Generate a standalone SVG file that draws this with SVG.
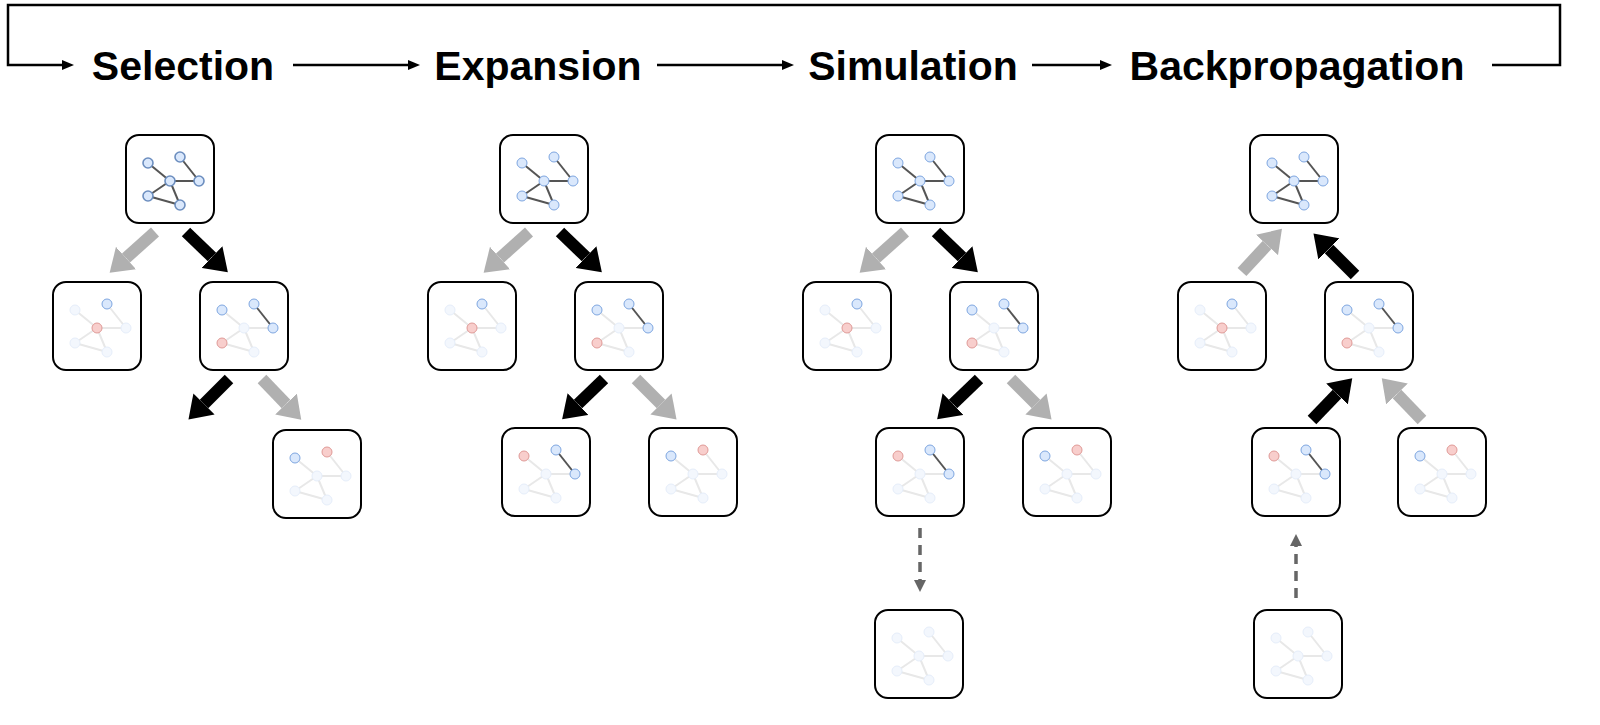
<svg xmlns="http://www.w3.org/2000/svg" xmlns:xlink="http://www.w3.org/1999/xlink" width="1600" height="725" viewBox="0 0 1600 725">
<style>
.box{fill:#fff;stroke:#000;stroke-width:2}
.t{font-family:"Liberation Sans",Arial,sans-serif;font-weight:bold;font-size:41px;text-anchor:middle}
.ed{stroke:#555;stroke-width:2}
.ef{stroke:#e8e8e8;stroke-width:2}
.nb{fill:#dae8fc;stroke:#7ea6e0;stroke-width:1}
.ns{fill:#dae8fc;stroke:#6c8ebf;stroke-width:1.6}
.nr{fill:#f8cecc;stroke:#e09a97;stroke-width:1}
.nf{fill:#f3f7fd;stroke:#e6eefa;stroke-width:1}
.bk{stroke:#000;stroke-width:12;marker-end:url(#hb)}
.gr{stroke:#b0b0b0;stroke-width:12;marker-end:url(#hg)}
.ds{stroke:#666;stroke-width:3.5;stroke-dasharray:10 7;marker-end:url(#hd)}
.hl{stroke:#000;stroke-width:2.5;fill:none}
</style>
<defs>
<marker id="hb" markerUnits="userSpaceOnUse" viewBox="0 0 22 30" markerWidth="22" markerHeight="30" refX="0" refY="15" orient="auto"><path d="M0,0L22,15L0,30z" fill="#000"/></marker>
<marker id="hg" markerUnits="userSpaceOnUse" viewBox="0 0 22 30" markerWidth="22" markerHeight="30" refX="0" refY="15" orient="auto"><path d="M0,0L22,15L0,30z" fill="#b0b0b0"/></marker>
<marker id="hd" markerUnits="userSpaceOnUse" viewBox="0 0 12 12" markerWidth="12" markerHeight="12" refX="0" refY="6" orient="auto"><path d="M0,0L12,6L0,12z" fill="#666"/></marker>
<marker id="hh" markerUnits="userSpaceOnUse" viewBox="0 0 12 10" markerWidth="12" markerHeight="10" refX="0" refY="5" orient="auto"><path d="M0,0L12,5L0,10z" fill="#000"/></marker>
<g id="gS"><g class="ed"><line x1="22" y1="28" x2="44" y2="46"/><line x1="54" y1="22" x2="73" y2="46"/><line x1="44" y1="46" x2="73" y2="46"/><line x1="44" y1="46" x2="22" y2="61"/><line x1="44" y1="46" x2="54" y2="70"/><line x1="22" y1="61" x2="54" y2="70"/></g><g class="ns"><circle cx="22" cy="28" r="5"/><circle cx="54" cy="22" r="5"/><circle cx="44" cy="46" r="5"/><circle cx="73" cy="46" r="5"/><circle cx="22" cy="61" r="5"/><circle cx="54" cy="70" r="5"/></g></g>
<g id="gA"><g class="ed"><line x1="22" y1="28" x2="44" y2="46"/><line x1="54" y1="22" x2="73" y2="46"/><line x1="44" y1="46" x2="73" y2="46"/><line x1="44" y1="46" x2="22" y2="61"/><line x1="44" y1="46" x2="54" y2="70"/><line x1="22" y1="61" x2="54" y2="70"/></g><g class="nb"><circle cx="22" cy="28" r="5"/><circle cx="54" cy="22" r="5"/><circle cx="44" cy="46" r="5"/><circle cx="73" cy="46" r="5"/><circle cx="22" cy="61" r="5"/><circle cx="54" cy="70" r="5"/></g></g>
<g id="gL"><g class="ef"><line x1="22" y1="28" x2="44" y2="46"/><line x1="54" y1="22" x2="73" y2="46"/><line x1="44" y1="46" x2="73" y2="46"/><line x1="44" y1="46" x2="22" y2="61"/><line x1="44" y1="46" x2="54" y2="70"/><line x1="22" y1="61" x2="54" y2="70"/></g><circle class="nf" cx="22" cy="28" r="5"/><circle class="nb" cx="54" cy="22" r="5"/><circle class="nr" cx="44" cy="46" r="5"/><circle class="nf" cx="73" cy="46" r="5"/><circle class="nf" cx="22" cy="61" r="5"/><circle class="nf" cx="54" cy="70" r="5"/></g>
<g id="gR"><g class="ef"><line x1="22" y1="28" x2="44" y2="46"/><line x1="44" y1="46" x2="73" y2="46"/><line x1="44" y1="46" x2="22" y2="61"/><line x1="44" y1="46" x2="54" y2="70"/><line x1="22" y1="61" x2="54" y2="70"/></g><line class="ed" x1="54" y1="22" x2="73" y2="46"/><circle class="nb" cx="22" cy="28" r="5"/><circle class="nb" cx="54" cy="22" r="5"/><circle class="nf" cx="44" cy="46" r="5"/><circle class="nb" cx="73" cy="46" r="5"/><circle class="nr" cx="22" cy="61" r="5"/><circle class="nf" cx="54" cy="70" r="5"/></g>
<g id="gGL"><g class="ef"><line x1="22" y1="28" x2="44" y2="46"/><line x1="44" y1="46" x2="73" y2="46"/><line x1="44" y1="46" x2="22" y2="61"/><line x1="44" y1="46" x2="54" y2="70"/><line x1="22" y1="61" x2="54" y2="70"/></g><line class="ed" x1="54" y1="22" x2="73" y2="46"/><circle class="nr" cx="22" cy="28" r="5"/><circle class="nb" cx="54" cy="22" r="5"/><circle class="nf" cx="44" cy="46" r="5"/><circle class="nb" cx="73" cy="46" r="5"/><circle class="nf" cx="22" cy="61" r="5"/><circle class="nf" cx="54" cy="70" r="5"/></g>
<g id="gGR"><g class="ef"><line x1="22" y1="28" x2="44" y2="46"/><line x1="54" y1="22" x2="73" y2="46"/><line x1="44" y1="46" x2="73" y2="46"/><line x1="44" y1="46" x2="22" y2="61"/><line x1="44" y1="46" x2="54" y2="70"/><line x1="22" y1="61" x2="54" y2="70"/></g><circle class="nb" cx="22" cy="28" r="5"/><circle class="nr" cx="54" cy="22" r="5"/><circle class="nf" cx="44" cy="46" r="5"/><circle class="nf" cx="73" cy="46" r="5"/><circle class="nf" cx="22" cy="61" r="5"/><circle class="nf" cx="54" cy="70" r="5"/></g>
<g id="gF"><g class="ef"><line x1="22" y1="28" x2="44" y2="46"/><line x1="54" y1="22" x2="73" y2="46"/><line x1="44" y1="46" x2="73" y2="46"/><line x1="44" y1="46" x2="22" y2="61"/><line x1="44" y1="46" x2="54" y2="70"/><line x1="22" y1="61" x2="54" y2="70"/></g><g class="nf"><circle cx="22" cy="28" r="5"/><circle cx="54" cy="22" r="5"/><circle cx="44" cy="46" r="5"/><circle cx="73" cy="46" r="5"/><circle cx="22" cy="61" r="5"/><circle cx="54" cy="70" r="5"/></g></g>
<rect id="bx" class="box" x="0" y="0" width="88" height="88" rx="13"/>
</defs>
<rect width="1600" height="725" fill="#fff"/>
<g id="header">
<path class="hl" d="M1492,65H1560V5H8V65H62" marker-end="url(#hh)"/>
<text class="t" x="183" y="80">Selection</text>
<text class="t" x="538" y="80">Expansion</text>
<text class="t" x="913" y="80">Simulation</text>
<text class="t" x="1297" y="80">Backpropagation</text>
<line class="hl" x1="293" y1="65" x2="408" y2="65" marker-end="url(#hh)"/>
<line class="hl" x1="657" y1="65" x2="782" y2="65" marker-end="url(#hh)"/>
<line class="hl" x1="1032" y1="65" x2="1100" y2="65" marker-end="url(#hh)"/>
</g>
<g id="connectors">
<line class="gr" x1="155" y1="232" x2="126" y2="258"/>
<line class="bk" x1="186" y1="232" x2="212" y2="257"/>
<line class="bk" x1="229" y1="379" x2="204" y2="404"/>
<line class="gr" x1="262" y1="379" x2="286" y2="404"/>
<line class="gr" x1="529" y1="232" x2="500" y2="258"/>
<line class="bk" x1="560" y1="232" x2="586" y2="257"/>
<line class="bk" x1="604" y1="379" x2="578" y2="404"/>
<line class="gr" x1="636" y1="379" x2="661" y2="404"/>
<line class="gr" x1="905" y1="232" x2="876" y2="258"/>
<line class="bk" x1="936" y1="232" x2="962" y2="257"/>
<line class="bk" x1="979" y1="379" x2="953" y2="404"/>
<line class="gr" x1="1011" y1="379" x2="1036" y2="404"/>
<line class="ds" x1="920" y1="528" x2="920" y2="580"/>
<line class="gr" x1="1242" y1="272" x2="1267" y2="245"/>
<line class="bk" x1="1355" y1="275" x2="1329" y2="249"/>
<line class="bk" x1="1312" y1="420" x2="1337" y2="394"/>
<line class="gr" x1="1422" y1="420" x2="1397" y2="394"/>
<line class="ds" x1="1296" y1="598" x2="1296" y2="546"/>
</g>
<g id="sel-root" transform="translate(126,135)"><use href="#bx"/><use href="#gS"/></g>
<g id="sel-c1" transform="translate(53,282)"><use href="#bx"/><use href="#gL"/></g>
<g id="sel-c2" transform="translate(200,282)"><use href="#bx"/><use href="#gR"/></g>
<g id="sel-g2" transform="translate(273,430)"><use href="#bx"/><use href="#gGR"/></g>
<g id="exp-root" transform="translate(500,135)"><use href="#bx"/><use href="#gA"/></g>
<g id="exp-c1" transform="translate(428,282)"><use href="#bx"/><use href="#gL"/></g>
<g id="exp-c2" transform="translate(575,282)"><use href="#bx"/><use href="#gR"/></g>
<g id="exp-g1" transform="translate(502,428)"><use href="#bx"/><use href="#gGL"/></g>
<g id="exp-g2" transform="translate(649,428)"><use href="#bx"/><use href="#gGR"/></g>
<g id="sim-root" transform="translate(876,135)"><use href="#bx"/><use href="#gA"/></g>
<g id="sim-c1" transform="translate(803,282)"><use href="#bx"/><use href="#gL"/></g>
<g id="sim-c2" transform="translate(950,282)"><use href="#bx"/><use href="#gR"/></g>
<g id="sim-g1" transform="translate(876,428)"><use href="#bx"/><use href="#gGL"/></g>
<g id="sim-g2" transform="translate(1023,428)"><use href="#bx"/><use href="#gGR"/></g>
<g id="sim-leaf" transform="translate(875,610)"><use href="#bx"/><use href="#gF"/></g>
<g id="bp-root" transform="translate(1250,135)"><use href="#bx"/><use href="#gA"/></g>
<g id="bp-c1" transform="translate(1178,282)"><use href="#bx"/><use href="#gL"/></g>
<g id="bp-c2" transform="translate(1325,282)"><use href="#bx"/><use href="#gR"/></g>
<g id="bp-g1" transform="translate(1252,428)"><use href="#bx"/><use href="#gGL"/></g>
<g id="bp-g2" transform="translate(1398,428)"><use href="#bx"/><use href="#gGR"/></g>
<g id="bp-leaf" transform="translate(1254,610)"><use href="#bx"/><use href="#gF"/></g>
</svg>
